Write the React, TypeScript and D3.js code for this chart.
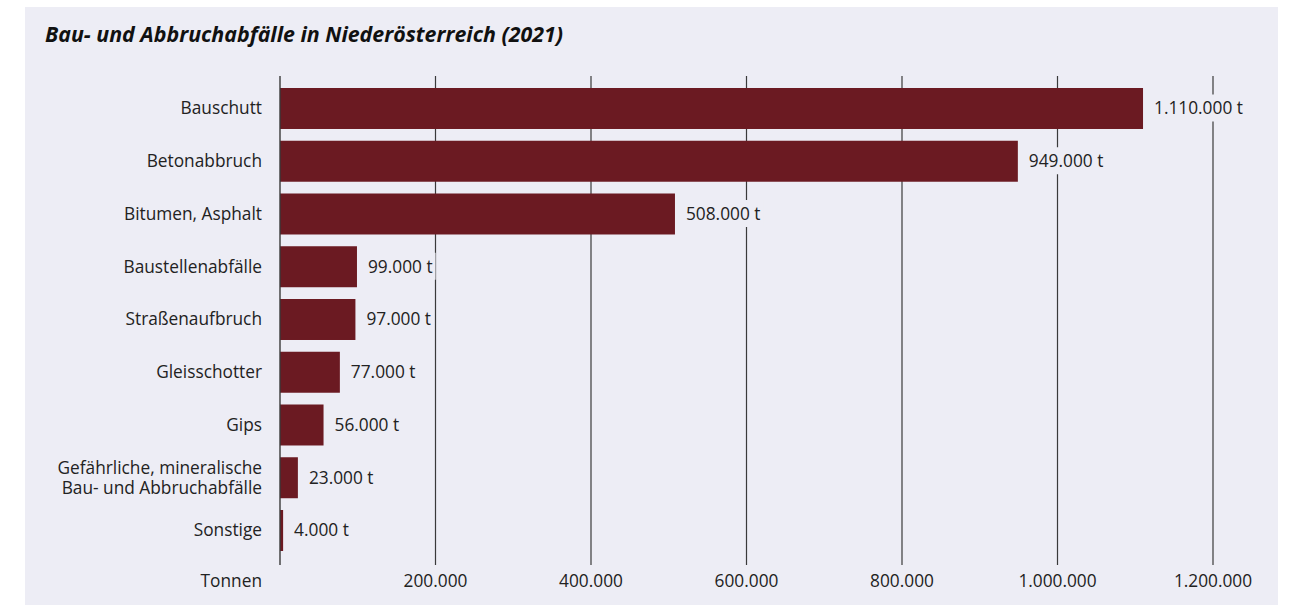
import React, { useEffect, useRef } from "react";
import * as d3 from "d3";

const categories = [
  "Bauschutt",
  "Betonabbruch",
  "Bitumen, Asphalt",
  "Baustellenabfälle",
  "Straßenaufbruch",
  "Gleisschotter",
  "Gips",
  "Gefährliche, mineralische\nBau- und Abbruchabfälle",
  "Sonstige",
];
const values = [1110000, 949000, 508000, 99000, 97000, 77000, 56000, 23000, 4000];
const ticks = [200000, 400000, 600000, 800000, 1000000, 1200000];
const title = "Bau- und Abbruchabfälle in Niederösterreich (2021)";
const axisLabel = "Tonnen";

const W = 1294;
const H = 607;
const BG = "#ededf5";
const BAR = "#6b1a22";
const FONT = "'Open Sans', Lato, sans-serif";
const FS = 17.3;

const fmt = (v: number) => v.toString().replace(/\B(?=(\d{3})+(?!\d))/g, ".");

export default function App() {
  const ref = useRef<SVGSVGElement>(null);
  useEffect(() => {
    const svg = d3.select(ref.current);
    svg.selectAll("*").remove();
    svg.append("rect").attr("x", 0).attr("y", 0).attr("width", W).attr("height", H).attr("fill", "#fff");
    svg.append("rect").attr("x", 25).attr("y", 7).attr("width", 1253).attr("height", 598).attr("fill", BG);

    svg.append("text").attr("x", 45).attr("y", 42).attr("font-family", FONT)
      .attr("font-size", 21).attr("font-weight", "bold").attr("font-style", "italic")
      .attr("fill", "#111").attr("textLength", 518).attr("lengthAdjust", "spacingAndGlyphs")
      .text(title);

    const x = d3.scaleLinear().domain([0, 1200000]).range([280, 1213]);
    const y = d3.scaleBand<string>().domain(categories)
      .range([82.12, 82.12 + 9 * 52.75]).paddingInner(0.223).paddingOuter(0.1115);

    const gTop = 76, gBot = 565;
    const grid = svg.append("g");
    grid.selectAll("line").data(ticks).join("line")
      .attr("x1", d => x(d)).attr("x2", d => x(d))
      .attr("y1", gTop).attr("y2", gBot)
      .attr("stroke", "#3a3a3a").attr("stroke-width", 1.2);

    svg.append("g").selectAll("text").data(ticks).join("text")
      .attr("x", d => x(d)).attr("y", 587).attr("text-anchor", "middle")
      .attr("font-family", FONT).attr("font-size", FS).attr("fill", "#222")
      .text(d => fmt(d));

    svg.append("text").attr("x", 262).attr("y", 587).attr("text-anchor", "end")
      .attr("font-family", FONT).attr("font-size", FS).attr("fill", "#222").text(axisLabel);

    const bars = svg.append("g");
    bars.selectAll("rect").data(categories).join("rect")
      .attr("x", x(0)).attr("y", d => y(d)!)
      .attr("width", (d, i) => x(values[i]) - x(0))
      .attr("height", y.bandwidth()).attr("fill", BAR);

    const cl = svg.append("g");
    categories.forEach(c => {
      const lines = c.split("\n");
      const cy = y(c)! + y.bandwidth() / 2;
      lines.forEach((ln, j) => {
        cl.append("text").attr("text-anchor", "end")
          .attr("font-family", FONT).attr("font-size", FS).attr("fill", "#222")
          .attr("x", 262)
          .attr("y", cy + 6 + (j - (lines.length - 1) / 2) * 20).text(ln);
      });
    });

    const vl = svg.append("g");
    categories.forEach((c, i) => {
      const cy = y(c)! + y.bandwidth() / 2;
      const g = vl.append("g");
      const bgRect = g.append("rect").attr("fill", BG);
      const t = g.append("text").attr("x", x(values[i]) + 11).attr("y", cy + 6)
        .attr("font-family", FONT).attr("font-size", FS).attr("fill", "#222")
        .text(fmt(values[i]) + " t");
      const bb = (t.node() as SVGTextElement).getBBox();
      bgRect.attr("x", bb.x - 3).attr("y", bb.y - 2).attr("width", bb.width + 6).attr("height", bb.height + 4);
    });

    svg.append("line").attr("x1", x(0)).attr("x2", x(0)).attr("y1", gTop).attr("y2", gBot)
      .attr("stroke", "#3a3a3a").attr("stroke-width", 1.4);
  }, []);
  return <svg ref={ref} width={W} height={H} style={{ display: "block", position: "absolute", left: 0, top: 0 }} />;
}
